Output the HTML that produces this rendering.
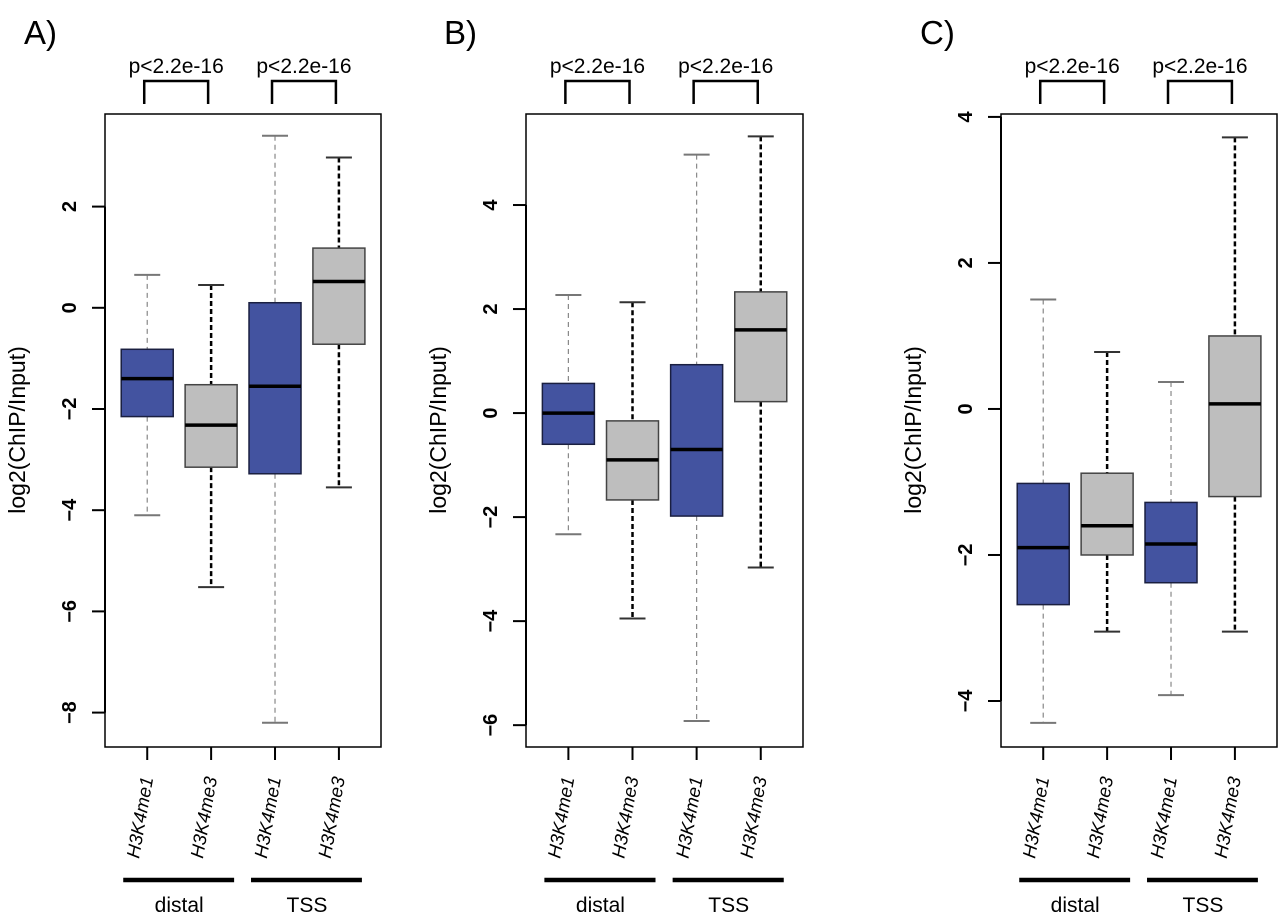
<!DOCTYPE html>
<html><head><meta charset="utf-8"><style>
body{margin:0;background:#fff;}
svg{display:block;font-family:"Liberation Sans",sans-serif;}
</style></head><body>
<svg id="chart" width="1280" height="914" xmlns="http://www.w3.org/2000/svg"></svg>
<script>
const categories = ["H3K4me1","H3K4me3","H3K4me1","H3K4me3"];
const groups = ["distal","TSS"];
const panelLabels = ["A)","B)","C)"];
const pLabels = ["p<2.2e-16","p<2.2e-16"];
// [hi whisker, q3, median, q1, lo whisker]
const panelA = [[0.65,-0.82,-1.4,-2.15,-4.1],[0.45,-1.52,-2.32,-3.15,-5.52],[3.4,0.1,-1.55,-3.28,-8.2],[2.97,1.18,0.52,-0.72,-3.55]];
const panelB = [[2.27,0.57,0,-0.6,-2.33],[2.13,-0.15,-0.9,-1.67,-3.95],[4.97,0.93,-0.7,-1.98,-5.92],[5.32,2.33,1.6,0.22,-2.97]];
const panelC = [[1.5,-1.02,-1.9,-2.68,-4.3],[0.78,-0.88,-1.6,-2.0,-3.05],[0.37,-1.28,-1.85,-2.38,-3.92],[3.72,1.0,0.07,-1.2,-3.05]];
const ticksA = [2,0,-2,-4,-6,-8];
const ticksB = [4,2,0,-2,-4,-6];
const ticksC = [4,2,0,-2,-4];

const svg = document.getElementById('chart');
const NS = "http://www.w3.org/2000/svg";
function mk(tag, attrs, parent){const e=document.createElementNS(NS,tag);for(const k in attrs)e.setAttribute(k,attrs[k]);(parent||svg).appendChild(e);return e;}

const panels = [
 {data:panelA, ticks:ticksA, left:105, right:381, ymax:3.83, ymin:-8.68, label:panelLabels[0], lx:24},
 {data:panelB, ticks:ticksB, left:526, right:803, ymax:5.75, ymin:-6.42, label:panelLabels[1], lx:444},
 {data:panelC, ticks:ticksC, left:1001, right:1277, ymax:4.04, ymin:-4.63, label:panelLabels[2], lx:920}
];
const plotTop=114, plotBottom=747;
panels.forEach((p,pi)=>{
  const g = mk('g',{});
  
  
  const y = v => plotTop + (p.ymax - v)/(p.ymax - p.ymin)*(plotBottom-plotTop);
  const w = p.right-p.left;
  const cx = i => p.left + w*(0.153 + i*0.2315);
  const pl = mk('text',{x:p.lx,y:44,'font-size':33},g); pl.textContent=p.label;
  
  
  const fr = mk('rect',{x:p.left,y:plotTop,width:w,height:plotBottom-plotTop,fill:'none',stroke:'#000','stroke-width':1.5},g);
  
  
  const t0=y(p.ticks[0]), t1=y(p.ticks[p.ticks.length-1]);
  mk('line',{x1:p.left,x2:p.left,y1:t0,y2:t1,stroke:'#000','stroke-width':2},g);
  p.ticks.forEach(t=>{
    const yy=y(t);
    const tl=mk('line',{x1:p.left-13,x2:p.left,y1:yy,y2:yy,stroke:'#000','stroke-width':2},g);
    
    
    const tx=mk('text',{x:0,y:0,'font-size':20,'font-weight':'bold','text-anchor':'middle',transform:`translate(${p.left-29},${yy}) rotate(-90)`},g);
    tx.textContent = t<0 ? '\u2212'+(-t) : String(t);
    
    
  });
  const yt=mk('text',{x:0,y:0,'font-size':23,'text-anchor':'middle',transform:`translate(${p.left-80},430) rotate(-90)`},g);
  yt.textContent='log2(ChIP/Input)';
  
  
  p.data.forEach((d,i)=>{
    const x=cx(i), bw=52, blue=(i%2===0);
    const bg=mk('g',{},g);
    
    
    const ws = blue?{stroke:'#888','stroke-width':1.2,'stroke-dasharray':'5,4'}:{stroke:'#000','stroke-width':2.5,'stroke-dasharray':'5,3'};
    mk('line',Object.assign({x1:x,x2:x,y1:y(d[0]),y2:y(d[1])},ws),bg);
    mk('line',Object.assign({x1:x,x2:x,y1:y(d[3]),y2:y(d[4])},ws),bg);
    const cs = blue?{stroke:'#777','stroke-width':2}:{stroke:'#333','stroke-width':2};
    mk('line',Object.assign({x1:x-13,x2:x+13,y1:y(d[0]),y2:y(d[0])},cs),bg);
    mk('line',Object.assign({x1:x-13,x2:x+13,y1:y(d[4]),y2:y(d[4])},cs),bg);
    mk('rect',{x:x-bw/2,y:y(d[1]),width:bw,height:y(d[3])-y(d[1]),fill:blue?'#4353a0':'#bebebe',stroke:blue?'#1a1f40':'#444','stroke-width':1.5},bg);
    mk('line',{x1:x-bw/2,x2:x+bw/2,y1:y(d[2]),y2:y(d[2]),stroke:'#000','stroke-width':3.5},bg);
    mk('line',{x1:x,x2:x,y1:plotBottom,y2:plotBottom+13,stroke:'#000','stroke-width':2},g);
    const xl=mk('text',{x:0,y:0,'font-size':18.5,'font-style':'italic','text-anchor':'end',transform:`translate(${x+6},778) rotate(-80)`},g);
    xl.textContent=categories[i];
    
    
  });
  [0,1].forEach(k=>{
    const x1=cx(2*k)-3, x2=cx(2*k+1)-3;
    const br=mk('path',{d:`M${x1},104 V81 H${x2} V104`,fill:'none',stroke:'#000','stroke-width':2.5},g);
    
    
    const pt=mk('text',{x:(x1+x2)/2,y:73,'font-size':21,'text-anchor':'middle'},g);
    pt.textContent=pLabels[k];
    
    
    const gb=mk('line',{x1:cx(2*k)-24,x2:cx(2*k+1)+23,y1:880,y2:880,stroke:'#000','stroke-width':4.5},g);
    
    
    const gt=mk('text',{x:(cx(2*k)+cx(2*k+1))/2,y:912,'font-size':21,'text-anchor':'middle'},g);
    gt.textContent=groups[k];
    
    
  });
});
</script>
</body></html>
